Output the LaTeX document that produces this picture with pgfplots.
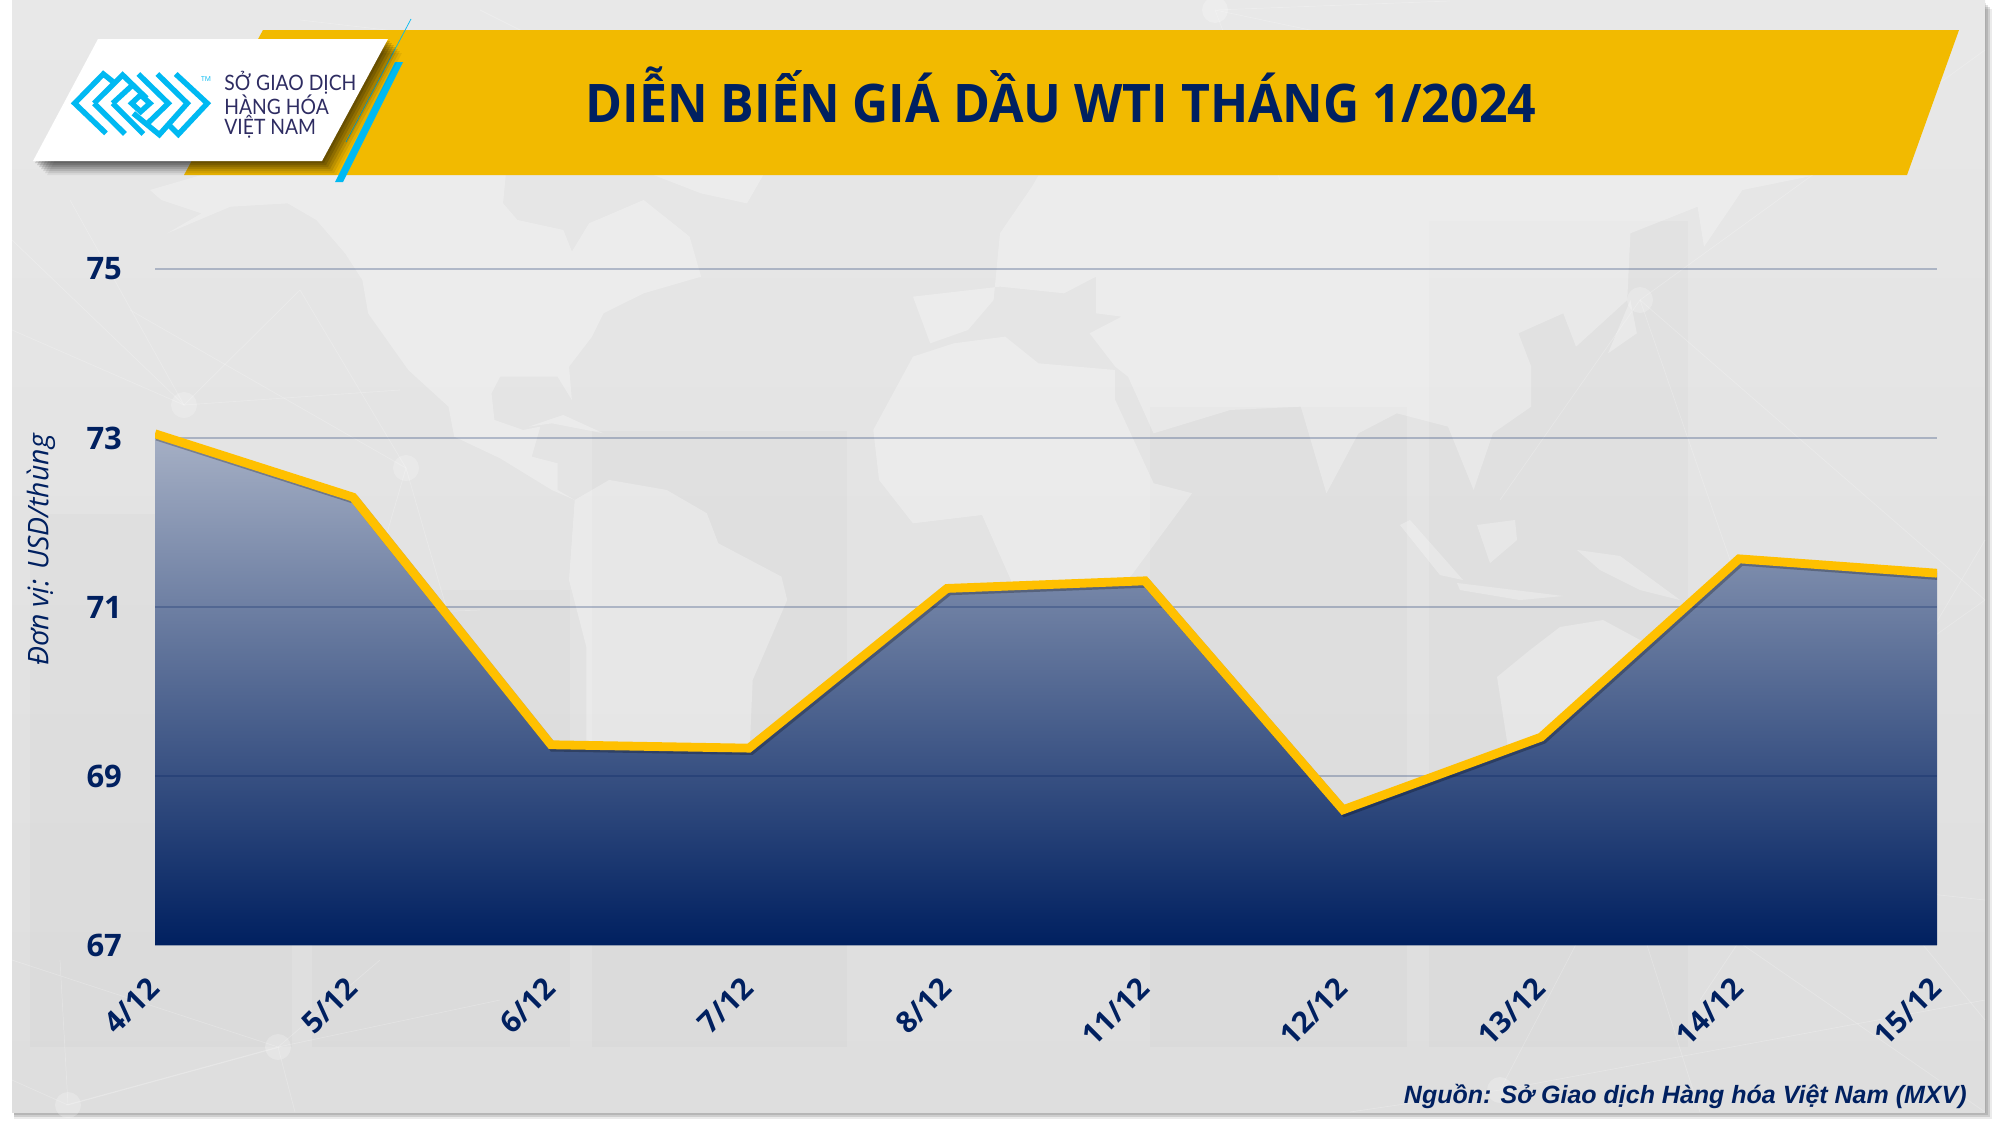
\documentclass[border=0pt]{standalone}
\usepackage{fontspec}
\usepackage{pgfplots}
\usepackage{pgfplotstable}
\pgfplotsset{compat=1.18}
\setmainfont{Open Sans}
\newfontfamily\logofont{Lato}
\newfontfamily\srcfont{Liberation Sans}
\definecolor{navy}{HTML}{002060}
\definecolor{gold}{HTML}{F2BA00}
\definecolor{linegold}{HTML}{FFC000}
\definecolor{cy}{HTML}{00B9F2}
\definecolor{logotxt}{HTML}{2E2C62}
\definecolor{areatop}{HTML}{A6B0C5}
\pgfplotstableread{
idx price
0 73.05
1 72.30
2 69.37
3 69.33
4 71.22
5 71.31
6 68.60
7 69.46
8 71.57
9 71.40
}\pricedata
\begin{document}
\begin{tikzpicture}[x=0.5pt,y=-0.5pt]
\path[use as bounding box] (0,0) rectangle (2000,1125);
% page shadow
\foreach \o/\a in {1/.10,3/.12,5/.12,7/.08}{
  \fill[black,opacity=\a] (14,2+\o) rectangle (1985+\o,1112+\o);
}
\shade[top color=black!9,bottom color=black!13] (12,0) rectangle (1985,1112);
% candle panels
\foreach \a/\b/\c in {30/292/514,312/570/590,592/847/431,1150/1407/407,1429/1688/221}{
  \fill[black,opacity=.015] (\a,\c) rectangle (\b,1047);
}
% network
\begin{scope}[white,opacity=.22,line width=.35pt]
\foreach \cx/\cy/\lst in {
  184/405/{12/240,12/330,70/200,300/290,400/390},
  406/468/{300/290,130/310,470/690,350/660},
  303/617/{155/500,240/700,480/610},
  278/1047/{12/960,66/1105,295/1112,380/960,500/1000},
  68/1105/{12/1080,280/1047,60/960},
  1640/300/{1985/50,1985/600,1500/500},
  1620/860/{1985/600,1985/900,1700/1112,1985/1112},
  1820/820/{1985/540,1640/300,1985/1020,1700/1000},
  560/50/{300/20,800/110,480/10},
  1215/10/{1500/70,1280/180,1450/1},
  1500/1090/{1620/860,1350/1112,1985/1000}}{
  \foreach \px/\py in \lst { \draw (\cx,\cy) -- (\px,\py); }
  \fill (\cx,\cy) circle[radius=13];
}
\end{scope}
% world map
\begin{scope}[white,opacity=.28]
\begin{scope}[shift={(150,180)},xscale=.574,yscale=.3333]
\fill (0,30)--(100,-20)--(620,-20)--(615,70)--(640,120)--(720,150)--(735,215)--(765,130)--(860,60)--(940,170)--(960,290)--(860,340)--(790,400)--(770,470)--(730,560)--(735,660)--(710,590)--(610,590)--(595,640)--(600,720)--(650,750)--(680,740)--(665,830)--(710,850)--(710,930)--(740,960)--(700,930)--(610,835)--(530,770)--(520,680)--(450,570)--(380,400)--(370,300)--(340,220)--(290,120)--(240,70)--(140,80)--(30,160)--(90,100)--(20,60)--cycle;
\fill (870,-20)--(1070,-20)--(1040,70)--(960,40)--cycle;
\fill (740,960)--(800,900)--(900,930)--(970,1000)--(990,1090)--(1100,1190)--(1110,1260)--(1050,1500)--(1045,1695)--(916,1695)--(760,1800)--(760,1400)--(730,1200)--cycle;
\fill (660,740)--(720,705)--(790,760)--(700,730)--cycle;
\end{scope}
\begin{scope}[shift={(1000,0)},xscale=.64,yscale=.3333]
% Africa
\fill (-198,1290)--(-136,1070)--(-72,1030)--(8,1010)--(60,1090)--(180,1110)--(180,1200)--(240,1450)--(300,1480)--(100,2000)--(0,2200)--(17,1740)--(-28,1545)--(-136,1570)--(-189,1440)--cycle;
% Eurasia
\fill (-136,890)--(-109,1030)--(-50,990)--(-10,900)--(0,700)--(50,560)--(60,527)--(1270,527)--(1160,570)--(1100,740)--(1090,620)--(985,700)--(980,900)--(900,1040)--(880,940)--(810,1000)--(830,1100)--(830,1220)--(770,1300)--(740,1470)--(700,1280)--(620,1240)--(560,1300)--(510,1480)--(470,1220)--(360,1230)--(240,1300)--(200,1130)--(180,1100)--(140,1000)--(190,950)--(150,940)--(150,830)--(100,880)--(0,860)--cycle;
\fill (950,1060)--(985,900)--(995,1000)--cycle;
\end{scope}
\fill (1410,520)--(1463,580)--(1440,575)--(1400,525)--cycle;
\fill (1477,525)--(1515,520)--(1517,540)--(1490,563)--cycle;
\fill (1457,583)--(1563,596)--(1520,600)--(1460,590)--cycle;
\fill (1577,550)--(1620,556)--(1680,600)--(1640,590)--(1600,570)--cycle;
\fill (1497,677)--(1530,650)--(1560,627)--(1603,620)--(1640,640)--(1680,660)--(1620,720)--(1600,780)--(1510,760)--cycle;
\end{scope}
% banner
\fill[gold] (263,30)--(1959,30)--(1907,175)--(184,175)--cycle;
\node[text=navy,font=\fontsize{26.6}{30}\selectfont\bfseries,anchor=base,inner sep=0pt] at (1061,122) {\scalebox{.94}[1]{DIỄN BIẾN GIÁ DẦU WTI THÁNG 1/2024}};
\fill[cy] (395,62)--(403,62)--(343,182)--(335,182)--cycle;
\draw[cy,line width=.35pt] (411,19)--(346,142);
% logo shadow
\foreach \o/\a in {2/.14,4/.14,6/.13,8/.12,10/.10,12/.08,14/.06}{
  \fill[black,opacity=\a] (33+\o,161+\o)--(98+\o,39+\o)--(388+\o,39+\o)--(322+\o,161+\o)--cycle;
}
\fill[white] (33,161)--(98,39)--(388,39)--(322,161)--cycle;
% logo mark
\begin{scope}[xscale=.3333,yscale=.3333,cy,line width=2.7pt,line cap=butt,line join=miter]
\draw (345,250)--(310,222)--(224,310)--(318,400);
\draw (282,310)--(368,225)--(440,295);
\draw (282,310)--(375,402);
\draw (338,310)--(398,255);
\draw (338,310)--(430,402);
\draw (415,222)--(505,310)--(445,368);
\draw (395,310)--(422,335)--(450,310)--(422,285)--cycle;
\draw (400,340)--(478,404)--(562,310)--(472,222);
\draw (527,222)--(622,310)--(535,403)--(510,378);
\end{scope}
\node[text=cy,font=\fontsize{3.4}{4}\selectfont,anchor=center] at (206,79) {TM};
\node[text=logotxt,font=\logofont\fontsize{10.6}{12}\selectfont,anchor=west,inner sep=0pt] at (224,83) {\scalebox{.91}[1]{SỞ GIAO DỊCH}};
\node[text=logotxt,font=\logofont\fontsize{10.6}{12}\selectfont,anchor=west,inner sep=0pt] at (224,105) {\scalebox{.91}[1]{HÀNG HÓA}};
\node[text=logotxt,font=\logofont\fontsize{10.6}{12}\selectfont,anchor=west,inner sep=0pt] at (224,127) {\scalebox{.91}[1]{VIỆT NAM}};
% area
\begin{axis}[at={(77.5pt,-472.5pt)},anchor=south west,scale only axis,width=891pt,height=338pt,
  xmin=0,xmax=9,ymin=67,ymax=75,hide axis]
\addplot[draw=none,top color=areatop,bottom color=navy,shading angle=0] table[x=idx,y=price] {\pricedata} \closedcycle;
\end{axis}
% grid, line, labels
\begin{axis}[at={(77.5pt,-472.5pt)},anchor=south west,scale only axis,width=891pt,height=338pt,
  xmin=0,xmax=9,ymin=67,ymax=75,
  axis line style={draw=none},major tick length=0pt,
  ymajorgrids,grid style={navy,opacity=.25,line width=.6pt},
  ytick={67,69,71,73,75},
  xtick={0,1,2,3,4,5,6,7,8,9},
  xticklabels={4/12,5/12,6/12,7/12,8/12,11/12,12/12,13/12,14/12,15/12},
  /pgf/number format/assume math mode=true,
  tick label style={text=navy,font=\fontsize{15.5}{18}\selectfont\bfseries},
  yticklabel style={xshift=-13pt},
  xticklabel style={rotate=45,anchor=north east,xshift=-10.5pt,yshift=-4.1pt,font=\fontsize{14.8}{17}\selectfont\bfseries},
]
\addplot[black,opacity=.25,line width=4.4pt,line join=miter,shift={(1pt,-1.2pt)}] table[x=idx,y=price] {\pricedata};
\addplot[linegold,line width=4.4pt,line join=miter] table[x=idx,y=price] {\pricedata};
\end{axis}
\node[text=navy,rotate=90,font=\fontsize{14.2}{16}\selectfont\itshape,anchor=center] at (41,550) {Đơn vị: USD/thùng};
\node[text=navy,font=\srcfont\fontsize{12.5}{15}\selectfont\bfseries\itshape,anchor=east,inner sep=0pt] at (1967,1096) {Nguồn: Sở Giao dịch Hàng hóa Việt Nam (MXV)};
\end{tikzpicture}
\end{document}
